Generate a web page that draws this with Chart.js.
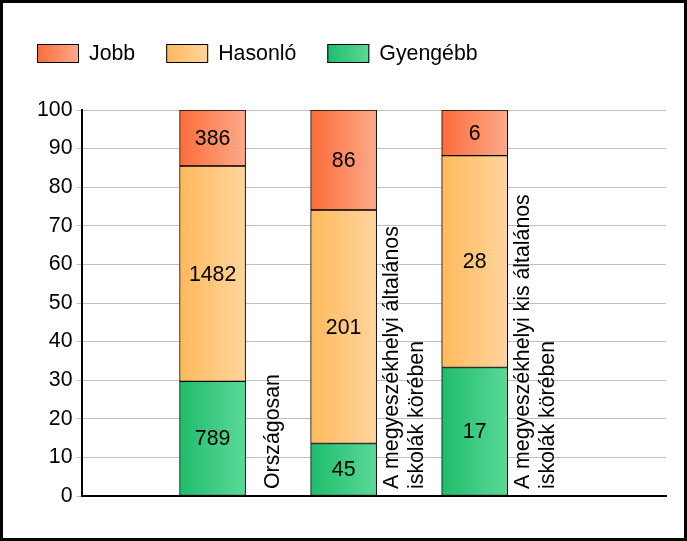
<!DOCTYPE html>
<html>
<head>
<meta charset="utf-8">
<script src="https://cdn.jsdelivr.net/npm/chart.js@4"></script>
<style>
  html, body { margin: 0; padding: 0; background: #fff; }
  canvas { display: block; }
</style>
</head>
<body>
<canvas id="myChart" width="687" height="541"></canvas>
<script>
'use strict';

// categories (multi-line, drawn rotated next to each bar)
const categories = [
  ['Országosan'],
  ['A megyeszékhelyi általános', 'iskolák körében'],
  ['A megyeszékhelyi kis általános', 'iskolák körében']
];
const seriesNames = ['Gyengébb', 'Hasonló', 'Jobb'];

// bar heights in percent
const gyengebbPct = [29.7, 13.6, 33.3];
const hasonloPct  = [55.8, 60.5, 54.9];
const jobbPct     = [14.5, 25.9, 11.8];

// counts printed inside the segments
const gyengebbCount = [789, 45, 17];
const hasonloCount  = [1482, 201, 28];
const jobbCount     = [386, 86, 6];

const yTicks = [0, 10, 20, 30, 40, 50, 60, 70, 80, 90, 100];

const colors = {
  jobb: ['#fb6c3a', '#fdaa8b'],
  hasonlo: ['#ffb95c', '#ffd59e'],
  gyengebb: ['#1fbc6b', '#5bd998'],
  grid: '#c0c0c0',
  text: '#000'
};
const FONT = "'Liberation Sans', Arial, sans-serif";
const FONT_SIZE = 21.3;
const BAR = 66;

Chart.defaults.font.family = FONT;
Chart.defaults.font.size = FONT_SIZE;
Chart.defaults.color = colors.text;

function barGradient(pair) {
  return function (ctx) {
    const chart = ctx.chart;
    if (!chart.chartArea || !ctx.raw) return pair[0];
    const cx = chart.scales.x.getPixelForValue(ctx.raw.x);
    const g = chart.ctx.createLinearGradient(cx - BAR / 2, 0, cx + BAR / 2, 0);
    g.addColorStop(0, pair[0]);
    g.addColorStop(1, pair[1]);
    return g;
  };
}

function points(values) {
  return values.map((v, i) => ({x: i + 1, y: v}));
}

const datasets = [
  {label: seriesNames[0], data: points(gyengebbPct), counts: gyengebbCount, colorPair: colors.gyengebb},
  {label: seriesNames[1], data: points(hasonloPct), counts: hasonloCount, colorPair: colors.hasonlo},
  {label: seriesNames[2], data: points(jobbPct), counts: jobbCount, colorPair: colors.jobb}
].map(d => Object.assign(d, {
  backgroundColor: barGradient(d.colorPair),
  borderColor: '#000',
  borderWidth: 1,
  borderSkipped: false,
  barThickness: BAR
}));

// legend drawn by hand so the boxes can carry the same gradients
const legendPlugin = {
  id: 'handLegend',
  afterDraw(chart) {
    const c = chart.ctx;
    c.save();
    c.font = FONT_SIZE + 'px ' + FONT;
    c.textBaseline = 'middle';
    c.fillStyle = colors.text;
    let x = 37;
    const top = 44, bw = 42, bh = 19;
    for (let i = chart.data.datasets.length - 1; i >= 0; i--) {
      const ds = chart.data.datasets[i];
      const g = c.createLinearGradient(x, 0, x + bw, 0);
      g.addColorStop(0, ds.colorPair[0]);
      g.addColorStop(1, ds.colorPair[1]);
      c.fillStyle = g;
      c.fillRect(x, top, bw, bh);
      c.lineWidth = 1;
      c.strokeStyle = '#000';
      c.strokeRect(x + 0.5, top + 0.5, bw - 1, bh - 1);
      c.fillStyle = colors.text;
      c.fillText(ds.label, x + bw + 10, top + bh / 2 + 1);
      x += bw + 10 + c.measureText(ds.label).width + 31;
    }
    c.restore();
  }
};

const labelPlugin = {
  id: 'barLabels',
  afterDatasetsDraw(chart) {
    const c = chart.ctx;
    const bottom = chart.scales.y.getPixelForValue(0);
    c.save();
    c.font = FONT_SIZE + 'px ' + FONT;
    c.fillStyle = colors.text;
    // counts inside segments
    c.textAlign = 'center';
    c.textBaseline = 'middle';
    chart.data.datasets.forEach((ds, di) => {
      chart.getDatasetMeta(di).data.forEach((el, i) => {
        c.fillText(String(ds.counts[i]), el.x, (el.y + el.base) / 2 + 1);
      });
    });
    // rotated category names to the right of each bar
    const meta = chart.getDatasetMeta(0);
    categories.forEach((lines, i) => {
      const el = meta.data[i];
      const right = el.x + el.width / 2;
      c.save();
      c.translate(right, bottom - 7);
      c.rotate(-Math.PI / 2);
      c.textAlign = 'left';
      c.textBaseline = 'alphabetic';
      lines.forEach((line, j) => {
        const off = 33.5 + (j - (lines.length - 1) / 2) * 25;
        c.fillText(line, 0, off);
      });
      c.restore();
    });
    c.restore();
  }
};

const framePlugin = {
  id: 'frame',
  beforeDraw(chart) {
    const c = chart.ctx;
    c.save();
    c.fillStyle = '#fff';
    c.fillRect(0, 0, chart.width, chart.height);
    c.restore();
  },
  afterDraw(chart) {
    const c = chart.ctx;
    c.save();
    c.lineWidth = 3;
    c.strokeStyle = '#000';
    c.strokeRect(1.5, 1.5, chart.width - 3, chart.height - 3);
    c.restore();
  }
};

new Chart(document.getElementById('myChart'), {
  type: 'bar',
  data: {datasets: datasets},
  options: {
    responsive: false,
    animation: false,
    layout: {padding: {left: 33, right: 21, top: 110, bottom: 45}},
    plugins: {
      legend: {display: false},
      tooltip: {enabled: false}
    },
    scales: {
      x: {
        type: 'linear',
        stacked: true,
        min: 0,
        max: 4.46,
        offset: false,
        ticks: {display: false},
        grid: {display: false, drawTicks: false},
        border: {display: true, color: '#000', width: 2}
      },
      y: {
        stacked: true,
        min: 0,
        max: 100,
        afterBuildTicks: scale => { scale.ticks = yTicks.map(v => ({value: v})); },
        ticks: {color: colors.text, padding: 4, font: {size: FONT_SIZE}},
        grid: {color: colors.grid, tickColor: colors.grid, tickLength: 5, lineWidth: 1},
        border: {display: true, color: '#000', width: 2}
      }
    }
  },
  plugins: [framePlugin, legendPlugin, labelPlugin]
});
</script>
</body>
</html>
